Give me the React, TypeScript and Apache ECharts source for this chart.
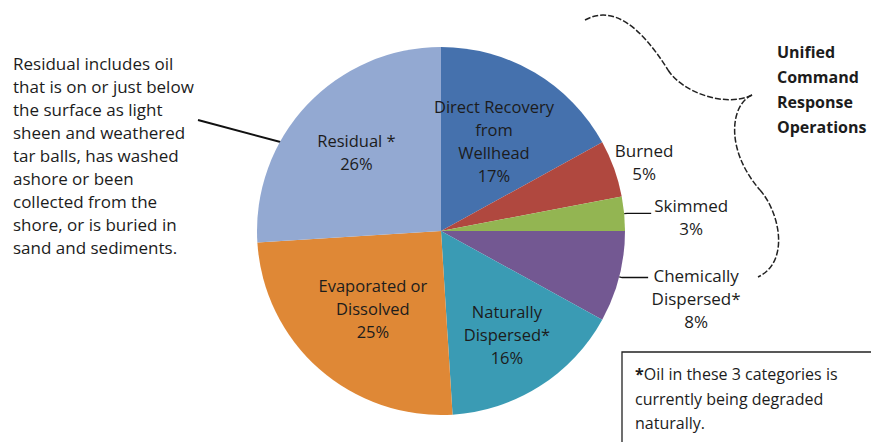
import React, { useEffect, useRef } from 'react';
import * as echarts from 'echarts';

const categories = [
  'Direct Recovery from Wellhead',
  'Burned',
  'Skimmed',
  'Chemically Dispersed',
  'Naturally Dispersed',
  'Evaporated or Dissolved',
  'Residual',
];
const labelNames = [
  'Direct Recovery\nfrom\nWellhead',
  'Burned',
  'Skimmed',
  'Chemically\nDispersed*',
  'Naturally\nDispersed*',
  'Evaporated or\nDissolved',
  'Residual *',
];
const values = [17, 5, 3, 8, 16, 25, 26];
const colors = ['#4571AD', '#B0483F', '#93B552', '#735892', '#3A9BB4', '#DF8836', '#93A9D2'];

const noteLines = [
  'Residual includes oil',
  'that is on or just below',
  'the surface as light',
  'sheen and weathered',
  'tar balls, has washed',
  'ashore or been',
  'collected from the',
  'shore, or is buried in',
  'sand and sediments.',
];
const bracketTitle = ['Unified', 'Command', 'Response', 'Operations'];
const footnoteLines = ['Oil in these 3 categories is', 'currently being degraded', 'naturally.'];

const FONT = '"Open Sans", "Noto Sans", sans-serif';
const TEXT = '#1c1c1c';

export default function App() {
  const ref = useRef<HTMLDivElement>(null);
  useEffect(() => {
    const chart = echarts.init(ref.current!, null, { renderer: 'svg' });
    const R = 184;
    const center = [441, 231];

    // label styling for slices labelled outside the pie
    const outsideCfg: Record<string, any> = {
      Burned: { padding: [0, 0, 14, 0], width: 60, length: 0, length2: 0, showLine: false, dist: 0 },
      Skimmed: { padding: [8, 0, 0, 0], width: 76, length: 3, length2: 24, showLine: true, dist: 2 },
      'Chemically Dispersed': { padding: [42, 0, 0, 0], width: 92, length: 3, length2: 26, showLine: true, dist: 2 },
    };
    // radius (in px) at which the inside labels are placed
    const insideLabelRadius: Record<string, number> = {
      'Direct Recovery from Wellhead': 101,
      'Naturally Dispersed': 120,
      'Evaporated or Dissolved': 100,
      Residual: 113,
    };

    const mainData = categories.map((name, i) => {
      const cfg = outsideCfg[name];
      if (!cfg) {
        return {
          name,
          value: values[i],
          itemStyle: { color: colors[i] },
          label: { show: false },
          labelLine: { show: false },
        };
      }
      const lines = labelNames[i].split('\n').concat([values[i] + '%']);
      return {
        name,
        value: values[i],
        itemStyle: { color: colors[i] },
        label: {
          show: true,
          position: 'outside',
          padding: cfg.padding,
          distanceToLabelLine: cfg.dist,
          formatter: lines.map((l) => '{t|' + l + '}').join('\n'),
          rich: {
            t: {
              width: cfg.width,
              align: 'center',
              fontSize: 17,
              fontFamily: FONT,
              lineHeight: 23,
              color: TEXT,
            },
          },
        },
        labelLine: {
          show: cfg.showLine,
          length: cfg.length,
          length2: cfg.length2,
          lineStyle: { color: '#111', width: 1.3 },
        },
      };
    });

    const overlaySeries = categories
      .filter((name) => insideLabelRadius[name] !== undefined)
      .map((target) => ({
        type: 'pie',
        center,
        radius: [0, insideLabelRadius[target] * 2],
        startAngle: 90,
        clockwise: true,
        avoidLabelOverlap: false,
        silent: true,
        z: 3,
        itemStyle: { borderWidth: 0, color: 'rgba(0,0,0,0)' },
        emphasis: { disabled: true },
        labelLine: { show: false },
        label: {
          show: true,
          position: 'inside',
          formatter: (p: any) => labelNames[p.dataIndex] + '\n' + values[p.dataIndex] + '%',
          fontSize: 16.5,
          fontFamily: FONT,
          lineHeight: 23,
          color: TEXT,
          align: 'center',
        },
        data: categories.map((name, i) => ({
          name,
          value: values[i],
          label: { show: name === target },
        })),
      }));

    const graphic: any[] = [
      {
        type: 'text',
        x: 13,
        y: 52,
        style: {
          text: noteLines.join('\n'),
          font: '17px ' + FONT,
          lineHeight: 23,
          fill: TEXT,
          verticalAlign: 'top',
        },
      },
      {
        type: 'line',
        shape: { x1: 198, y1: 120, x2: 288, y2: 144 },
        style: { stroke: '#111', lineWidth: 2 },
      },
      {
        type: 'text',
        x: 777,
        y: 40,
        style: {
          text: bracketTitle.join('\n'),
          font: 'bold 16px ' + FONT,
          lineHeight: 24.8,
          fill: TEXT,
          verticalAlign: 'top',
        },
      },
      ...[
        [585, 20, 612, 5, 640, 25, 668, 70],
        [668, 70, 682, 92, 725, 108, 752, 95],
        [752, 95, 730, 105, 725, 150, 760, 190],
        [760, 190, 780, 213, 790, 262, 758, 277],
      ].map((s) => ({
        type: 'bezierCurve',
        shape: { x1: s[0], y1: s[1], cpx1: s[2], cpy1: s[3], cpx2: s[4], cpy2: s[5], x2: s[6], y2: s[7] },
        style: { stroke: '#222', lineWidth: 1.5, lineDash: [6, 2], fill: null },
      })),
      {
        type: 'rect',
        shape: { x: 622, y: 352, width: 270, height: 110 },
        style: { fill: '#fff', stroke: '#222', lineWidth: 1.3 },
      },
      {
        type: 'text',
        x: 635,
        y: 362,
        style: {
          text: '{s|*}' + footnoteLines.join('\n'),
          rich: {
            s: { font: 'bold 16px ' + FONT, fill: TEXT, lineHeight: 24.5 },
          },
          font: '16px ' + FONT,
          lineHeight: 24.5,
          fill: TEXT,
          verticalAlign: 'top',
        },
      },
    ];

    chart.setOption({
      animation: false,
      backgroundColor: '#ffffff',
      graphic,
      series: [
        {
          type: 'pie',
          center,
          radius: [0, R],
          startAngle: 90,
          clockwise: true,
          avoidLabelOverlap: false,
          silent: true,
          itemStyle: { borderWidth: 0 },
          emphasis: { disabled: true },
          data: mainData,
        },
        ...overlaySeries,
      ],
    });
    return () => chart.dispose();
  }, []);
  return (
    <div
      ref={ref}
      style={{ position: 'absolute', left: 0, top: 0, width: 871, height: 442 }}
    />
  );
}
